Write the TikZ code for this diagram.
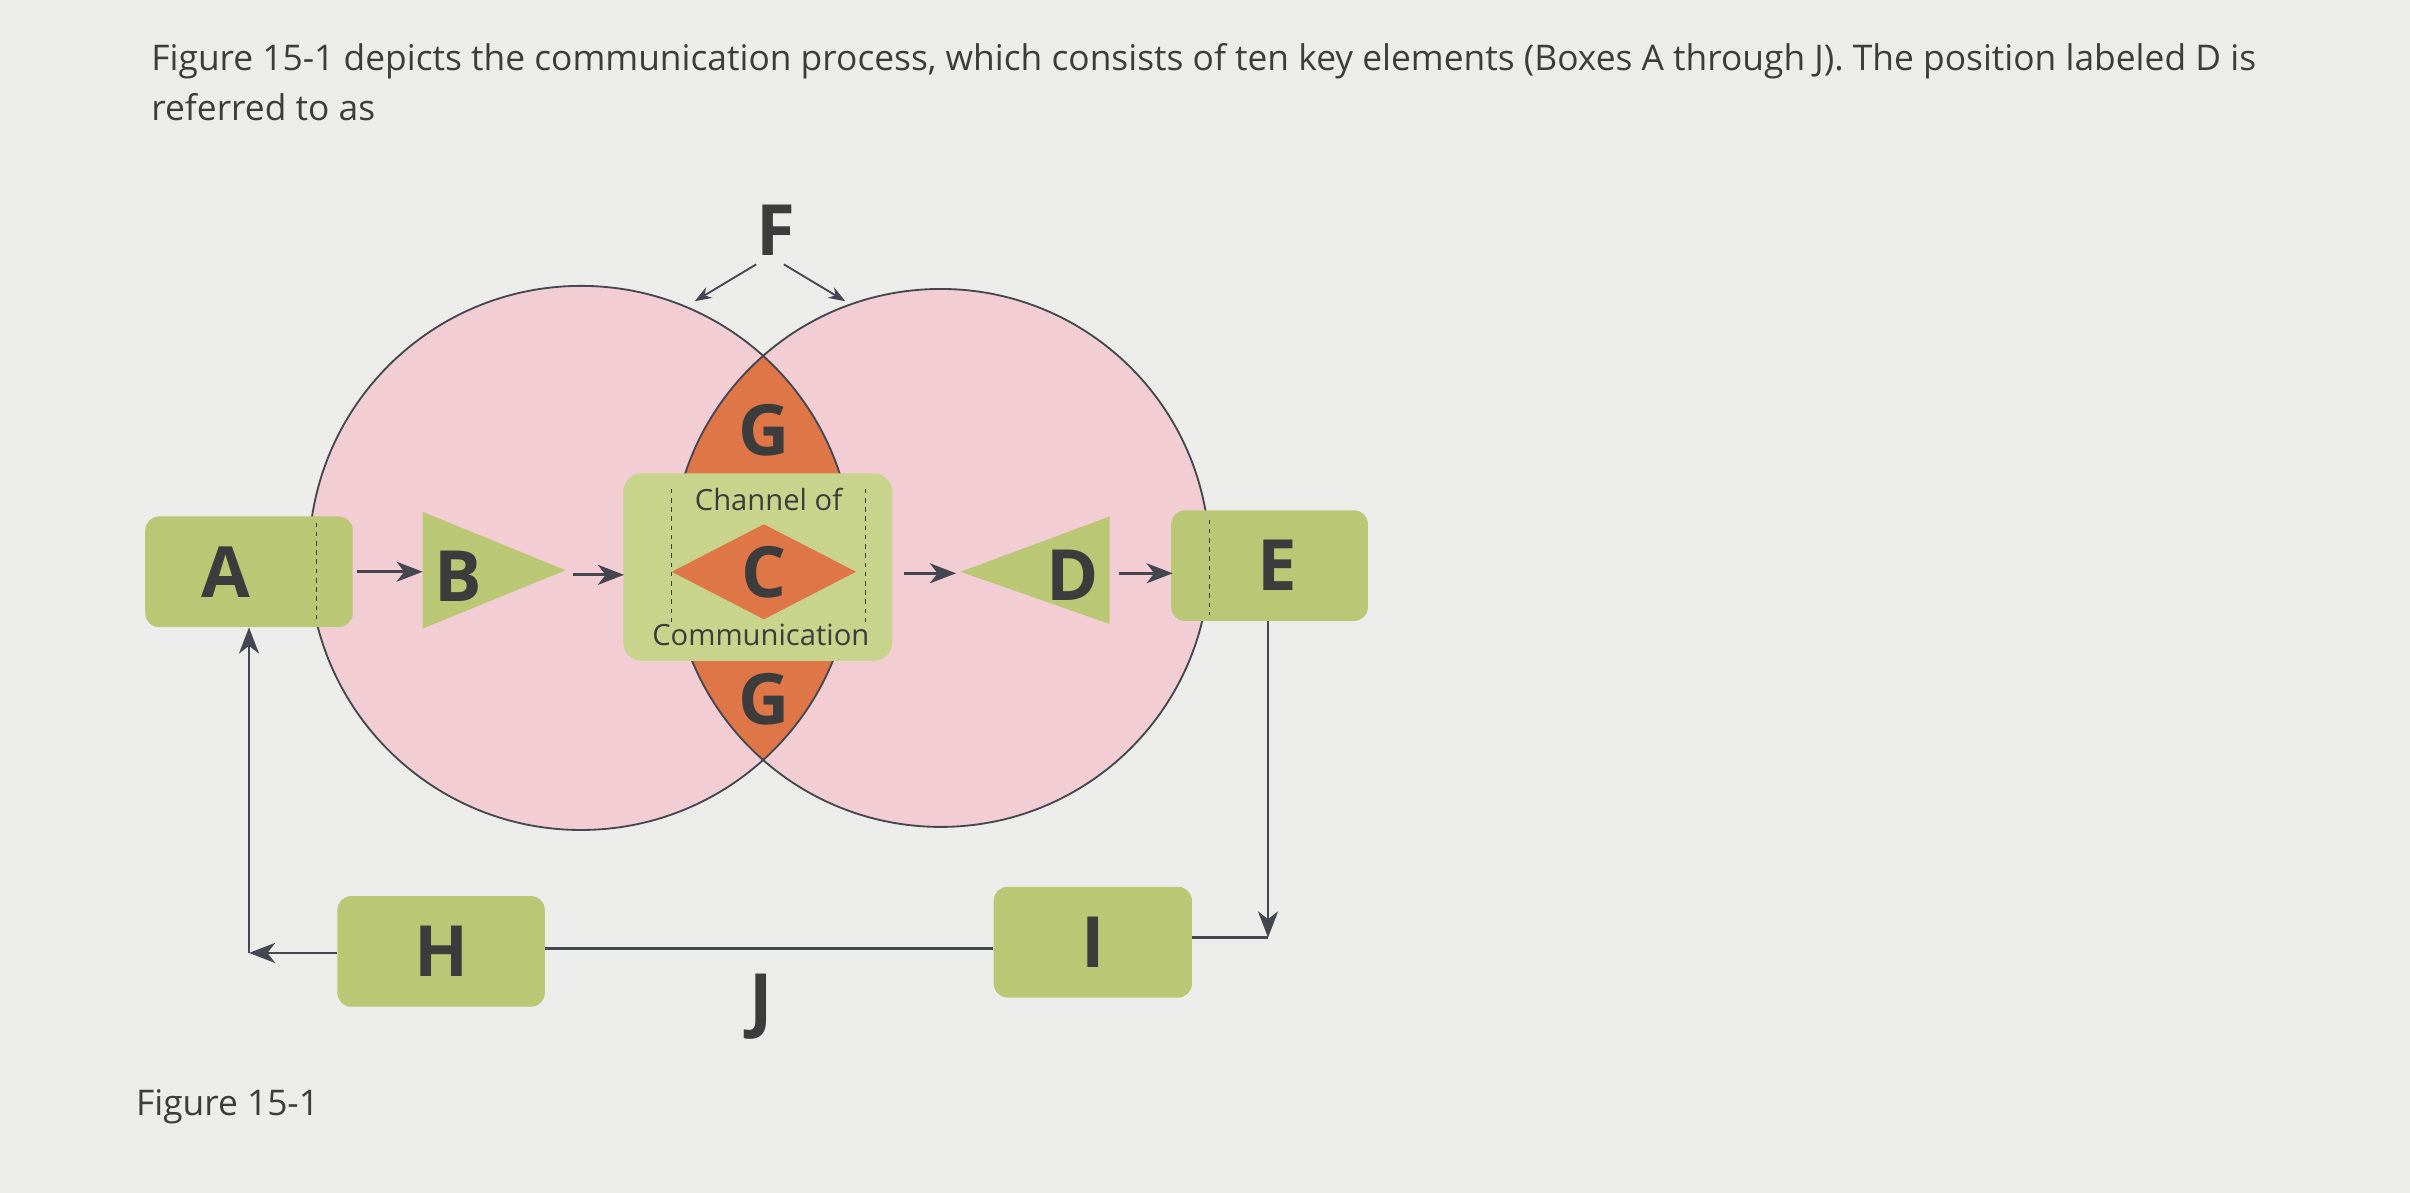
\documentclass[tikz,border=0pt]{standalone}
\usepackage{fontspec}
\setmainfont{Open Sans}
\usetikzlibrary{arrows.meta,shapes.geometric}
\definecolor{bg}{RGB}{236,237,235}
\definecolor{pinkf}{RGB}{242,205,212}
\definecolor{lens}{RGB}{222,118,72}
\definecolor{boxg}{RGB}{186,200,118}
\definecolor{boxl}{RGB}{200,212,140}
\definecolor{txt}{RGB}{60,60,60}
\definecolor{lineg}{RGB}{70,70,80}
\tikzset{
 gbox/.style={draw=none,fill=boxg,rounded corners=9pt,minimum width=#1,minimum height=72pt,font=\bfseries\fontsize{46}{46}\selectfont,text=txt},
 lbl/.style={font=\bfseries\fontsize{46}{46}\selectfont,text=txt},
 conn/.style={draw=lineg,line width=1.8pt},
 arr/.style={conn,-{Stealth[length=17pt,width=13pt,inset=5pt]}},
 hdr/.style={font=\fontsize{23}{26}\selectfont,text=txt,anchor=west}
}
\begin{document}
\begin{tikzpicture}[x=1pt,y=-1pt]
\fill[bg] (0,0) rectangle (1568,776);
\useasboundingbox (0,0) rectangle (1568,776);
\node[hdr] (t1) at (95,40) {Figure 15-1 depicts the communication process, which consists of ten key elements (Boxes A through J). The position labeled D is};
\node[hdr] (t2) at (95,70) {referred to as};
\node[hdr] (fig) at (85,720) {Figure 15-1};
% circles
\fill[pinkf] (378,363) circle (177);
\fill[pinkf] (612,363) circle (175);
\begin{scope}
\clip (378,363) circle (177);
\fill[lens] (612,363) circle (175);
\end{scope}
\draw[lineg,line width=1.2pt] (378,363) circle (177);
\draw[lineg,line width=1.2pt] (612,363) circle (175);
% center box
\node[fill=boxl,rounded corners=12pt,minimum width=175pt,minimum height=122pt] (cbox) at (493,369) {};
\node[diamond,fill=lens,minimum width=120pt,minimum height=62pt,inner sep=0pt] (cd) at (497,372) {};
\node[lbl] (C) at (497,372) {C};
\node[font=\fontsize{19}{20}\selectfont,text=txt] (ch) at (500,325) {Channel of};
\node[font=\fontsize{19}{20}\selectfont,text=txt] (co) at (495,413) {Communication};
\draw[txt,dashed,line width=0.8pt] (437,318)--(437,405);
\draw[txt,dashed,line width=0.8pt] (563,318)--(563,405);
\node[lbl] (G1) at (497,280) {G};
\node[lbl] (G2) at (497,455) {G};
\node[lbl] (F) at (505,150) {F};
% boxes
\node[gbox=135pt] (A) at (162,372) {\hspace*{-30pt}A};
\node[gbox=128pt] (E) at (826,368) {\hspace*{10pt}E};
\node[gbox=135pt] (H) at (287,619) {H};
\node[gbox=129pt] (I) at (711,613) {I};
\draw[txt,dashed,line width=0.8pt] (206,340)--(206,405);
\draw[txt,dashed,line width=0.8pt] (787,338)--(787,400);
% triangles
\fill[boxg] (275,333)--(368,371)--(275,409)--cycle;
\fill[boxg] (722,336)--(625,372)--(722,406)--cycle;
\node[lbl] (B) at (298,375) {B};
\node[lbl] (D) at (698,374) {D};
% arrows
\coordinate (a1) at (232,372); \coordinate (a2) at (275,372);
\draw[arr] (a1)--(a2);
\coordinate (b1) at (373,374); \coordinate (b2) at (406,374);
\draw[arr] (b1)--(b2);
\coordinate (c1) at (588,373); \coordinate (c2) at (622,373);
\draw[arr] (c1)--(c2);
\coordinate (d1) at (728,373); \coordinate (d2) at (763,373);
\draw[arr] (d1)--(d2);
\coordinate (f0) at (492,172); \coordinate (f1) at (452,196);
\coordinate (g0) at (510,172); \coordinate (g1) at (550,196);
\draw[conn,line width=1.2pt,-{Stealth[length=11pt,width=8pt]}] (f0)--(f1);
\draw[conn,line width=1.2pt,-{Stealth[length=11pt,width=8pt]}] (g0)--(g1);
% feedback
\coordinate (e1) at (825,610);
\draw[arr] (E.south -| e1)--(e1);
\draw[conn] (I.east |- e1)--(e1);
\draw[conn] (H.east |- 0,617)--(I.west |- 0,617);
\coordinate (h1) at (162,620);
\draw[arr] (H.west |- h1)--(h1);
\draw[arr] (h1)--(A.south);
\node[lbl] (J) at (495,655) {J};
\end{tikzpicture}
\end{document}
